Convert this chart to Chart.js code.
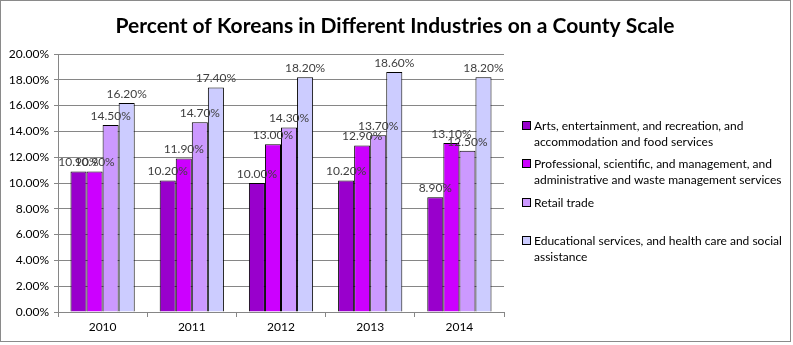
<!DOCTYPE html>
<html>
<head>
<meta charset="utf-8">
<script src="https://cdn.jsdelivr.net/npm/chart.js@4/dist/chart.umd.min.js"></script>
<style>
  html, body { margin: 0; padding: 0; background: #fff; }
  #wrap { width: 793px; height: 345px; }
</style>
</head>
<body>
<div id="wrap"><canvas id="bars" width="793" height="345"></canvas></div>
<script>
const years = ['2010', '2011', '2012', '2013', '2014'];
const arts = [10.9, 10.2, 10.0, 10.2, 8.9];
const professional = [10.9, 11.9, 13.0, 12.9, 13.1];
const retail = [14.5, 14.7, 14.3, 13.7, 12.5];
const education = [16.2, 17.4, 18.2, 18.6, 18.2];
const seriesNames = [
  ['Arts, entertainment, and recreation, and', 'accommodation and food services'],
  ['Professional, scientific, and management, and', 'administrative and waste management services'],
  ['Retail trade'],
  ['Educational services, and health care and social', 'assistance']
];
const seriesColors = ['#9900cc', '#cc00ff', '#cc99ff', '#ccccff'];
const yTicks = [0, 2, 4, 6, 8, 10, 12, 14, 16, 18, 20];
const chartTitle = 'Percent of Koreans in Different Industries on a County Scale';

const FONT = 'Lato, "Open Sans", sans-serif';

// white background, frame and the title centred on the whole picture
const framePlugin = {
  id: 'frame',
  beforeDraw(chart) {
    const c = chart.ctx;
    c.save();
    c.fillStyle = '#fff';
    c.fillRect(0, 0, chart.width, chart.height);
    c.strokeStyle = '#8a8a8a';
    c.lineWidth = 1;
    c.strokeRect(0.5, 0.5, 790, 341);
    c.fillStyle = '#000';
    c.font = 'bold 21px ' + FONT;
    c.textAlign = 'center';
    c.textBaseline = 'middle';
    c.fillText(chartTitle, 395, 26);
    c.restore();
  }
};

// value labels above each bar
const valueLabels = {
  id: 'valueLabels',
  afterDatasetsDraw(chart) {
    const c = chart.ctx;
    c.save();
    c.font = '12px ' + FONT;
    c.fillStyle = '#404040';
    c.textAlign = 'center';
    c.textBaseline = 'bottom';
    chart.data.datasets.forEach((ds, i) => {
      chart.getDatasetMeta(i).data.forEach((bar, j) => {
        c.fillText(ds.data[j].toFixed(2) + '%', bar.x, bar.y - 3);
      });
    });
    c.restore();
  }
};

// legend on the right, with wrapped lines like the original
const sideLegend = {
  id: 'sideLegend',
  afterDraw(chart) {
    const c = chart.ctx;
    const rowsY = [126, 164, 203, 241];
    c.save();
    c.font = '12px ' + FONT;
    c.textBaseline = 'middle';
    c.textAlign = 'left';
    chart.data.datasets.forEach((ds, i) => {
      const y = rowsY[i];
      c.fillStyle = ds.backgroundColor;
      c.fillRect(522.5, y - 4.5, 8, 8);
      c.strokeStyle = '#000';
      c.lineWidth = 1;
      c.strokeRect(522.5, y - 4.5, 8, 8);
      c.fillStyle = '#000';
      seriesNames[i].forEach((line, k) => {
        c.fillText(line, 534, y + k * 16);
      });
    });
    c.restore();
  }
};

const datasets = [arts, professional, retail, education].map((vals, i) => ({
  label: seriesNames[i].join(' '),
  data: vals,
  backgroundColor: seriesColors[i],
  borderColor: '#000',
  borderWidth: 1,
  borderSkipped: 'bottom',
  categoryPercentage: 0.72,
  barPercentage: 1.0
}));

new Chart(document.getElementById('bars'), {
  type: 'bar',
  data: { labels: years, datasets: datasets },
  plugins: [framePlugin, valueLabels, sideLegend],
  options: {
    responsive: false,
    animation: false,
    layout: { padding: { left: 0, right: 289, top: 54, bottom: 0 } },
    plugins: {
      legend: { display: false },
      tooltip: { enabled: false },
      title: { display: false }
    },
    scales: {
      x: {
        afterFit(s) { s.height = 33; },
        grid: { display: true, drawOnChartArea: false, tickLength: 5, color: '#868686', offset: true },
        border: { color: '#868686' },
        ticks: { color: '#000', font: { family: FONT, size: 12 }, padding: 3 }
      },
      y: {
        min: 0,
        max: 20,
        afterFit(s) { s.width = 58; },
        afterBuildTicks(s) { s.ticks = yTicks.map(v => ({ value: v })); },
        grid: { color: '#868686', tickLength: 4 },
        border: { color: '#868686' },
        ticks: {
          color: '#000',
          font: { family: FONT, size: 12 },
          padding: 5,
          callback: v => v.toFixed(2) + '%'
        }
      }
    }
  }
});
</script>
</body>
</html>
